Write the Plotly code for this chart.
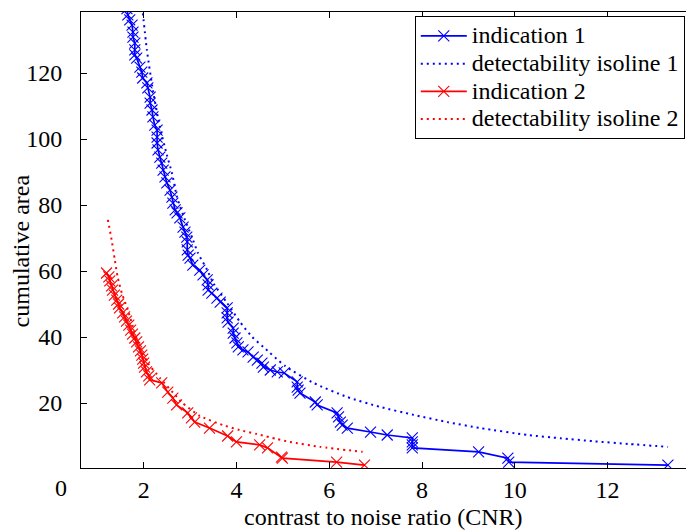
import plotly.graph_objects as go

# ---------------- data ----------------
cnr_ind1 = [1.64, 1.66, 1.70, 1.75, 1.77, 1.77, 1.81, 1.81, 1.81, 1.85,
            1.92, 1.96, 1.98, 2.07, 2.09, 2.14, 2.14, 2.18, 2.20, 2.24,
            2.29, 2.29, 2.29, 2.31, 2.35, 2.39, 2.42, 2.46, 2.50, 2.57,
            2.61, 2.63, 2.68, 2.72, 2.78, 2.85, 2.89, 2.93, 2.94, 2.94,
            2.96, 3.00, 3.06, 3.21, 3.28, 3.37, 3.39, 3.39, 3.47, 3.58,
            3.65, 3.80, 3.80, 3.80, 3.82, 3.93, 3.93, 3.97, 4.01, 4.04,
            4.14, 4.25, 4.36, 4.45, 4.55, 4.58, 4.73, 4.88, 5.03, 5.31,
            5.31, 5.33, 5.37, 5.70, 5.74, 6.17, 6.20, 6.24, 6.28, 6.39,
            6.89, 7.25, 7.79, 7.79, 7.79, 7.79, 9.22, 9.85, 9.87, 13.30]
area_ind1 = [139.5, 137.6, 136.1, 134.5, 132.4, 130.9, 129.1, 127.0, 125.5, 124.5,
             121.8, 120.3, 118.5, 117.0, 115.5, 112.7, 110.9, 108.8, 106.7, 104.2,
             102.7, 100.6, 98.8, 96.7, 94.5, 92.7, 90.6, 88.5, 86.7, 84.5,
             82.4, 80.6, 78.5, 77.6, 76.1, 73.3, 71.8, 70.3, 68.8, 66.4,
             64.8, 63.9, 61.8, 60.3, 58.8, 57.3, 55.8, 54.2, 53.3, 51.8,
             50.6, 48.8, 47.3, 45.8, 44.5, 42.7, 41.2, 39.7, 38.2, 37.0,
             36.1, 35.5, 33.9, 33.0, 32.1, 30.9, 30.0, 29.4, 29.1, 26.4,
             24.8, 23.9, 23.0, 20.3, 19.4, 17.0, 15.8, 14.2, 13.3, 12.4,
             11.2, 10.3, 9.4, 8.2, 7.3, 6.4, 5.2, 3.3, 2.1, 1.2]

cnr_iso1 = [1.97, 2.07, 2.20, 2.35, 2.50, 2.61, 2.72, 2.89, 3.04, 3.17,
            3.37, 3.50, 3.80, 4.08, 4.34, 4.58, 5.05, 5.66, 6.39, 7.10,
            7.82, 8.55, 9.26, 10.28, 10.99, 11.70, 12.44, 13.30]
area_iso1 = [140.0, 127.0, 114.8, 103.6, 95.2, 89.7, 82.4, 75.5, 70.3, 65.5,
             60.3, 56.4, 50.3, 44.5, 40.0, 37.0, 31.2, 26.1, 21.8, 18.8,
             16.4, 14.2, 12.4, 10.3, 9.3, 8.4, 7.6, 6.7]

cnr_ind2 = [1.20, 1.25, 1.27, 1.31, 1.33, 1.37, 1.42, 1.46, 1.48, 1.55,
            1.59, 1.63, 1.68, 1.72, 1.76, 1.81, 1.85, 1.89, 1.93, 1.96,
            1.98, 2.00, 2.02, 2.06, 2.11, 2.13, 2.39, 2.52, 2.63, 2.71,
            2.95, 3.03, 3.10, 3.42, 3.81, 4.00, 4.50, 4.67, 4.97, 4.99,
            6.16, 6.76]
area_ind2 = [59.4, 58.2, 57.0, 55.5, 54.2, 52.7, 51.2, 50.0, 48.8, 47.3,
             46.1, 44.8, 43.6, 42.1, 40.9, 39.7, 38.5, 37.0, 35.8, 34.5,
             33.3, 32.1, 30.9, 29.4, 28.2, 27.0, 26.1, 23.3, 21.5, 19.4,
             17.0, 15.5, 14.2, 12.4, 10.0, 8.2, 7.3, 6.4, 3.6, 3.3,
             2.1, 1.2]

cnr_iso2 = [1.23, 1.31, 1.38, 1.44, 1.53, 1.66, 1.77, 1.88, 1.98, 2.09,
            2.35, 2.72, 2.84, 3.21, 3.71, 4.07, 4.44, 4.87, 5.15, 5.80, 6.72]
area_iso2 = [75.5, 69.4, 63.3, 58.2, 53.3, 48.2, 43.0, 38.2, 35.2, 32.1,
             27.6, 21.8, 20.0, 16.1, 13.3, 11.8, 10.6, 9.1, 8.2, 6.7, 5.2]

series_names = ["indication 1", "detectability isoline 1",
                "indication 2", "detectability isoline 2"]
x_ticks = [2, 4, 6, 8, 10, 12]
y_ticks = [20, 40, 60, 80, 100, 120]
x_title = "contrast to noise ratio (CNR)"
y_title = "cumulative area"
origin_label = "0"

# ---------------- styling ----------------
FONT = "Liberation Serif"
BLUE = "#0000ff"
RED = "#ff0000"
LEG_TXT = 24


def leg(name):
    return '<span style="font-size:%spx">%s</span>' % (LEG_TXT, name)


fig = go.Figure()
fig.add_trace(go.Scatter(
    x=cnr_ind1, y=area_ind1, mode="lines+markers", name=leg(series_names[0]),
    line=dict(color=BLUE, width=1.7),
    marker=dict(symbol="x-thin", size=11, color=BLUE, line=dict(color=BLUE, width=1.1))))
fig.add_trace(go.Scatter(
    x=cnr_iso1, y=area_iso1, mode="lines", name=leg(series_names[1]),
    line=dict(color=BLUE, width=2, dash="2px,4px", shape="spline", smoothing=0.6)))
fig.add_trace(go.Scatter(
    x=cnr_ind2, y=area_ind2, mode="lines+markers", name=leg(series_names[2]),
    line=dict(color=RED, width=1.7),
    marker=dict(symbol="x-thin", size=11, color=RED, line=dict(color=RED, width=1.1))))
fig.add_trace(go.Scatter(
    x=cnr_iso2, y=area_iso2, mode="lines", name=leg(series_names[3]),
    line=dict(color=RED, width=2, dash="2px,4px", shape="spline", smoothing=0.6)))

axis_common = dict(
    showgrid=False, zeroline=False, showline=True, linecolor="black", linewidth=1,
    ticks="inside", ticklen=6, tickwidth=1, tickcolor="black",
    tickfont=dict(family=FONT, size=24, color="black"),
)

fig.update_layout(
    width=686, height=530,
    margin=dict(l=81, r=0, t=12, b=62),
    paper_bgcolor="white", plot_bgcolor="white",
    font=dict(family=FONT, color="black"),
    showlegend=True,
    legend=dict(
        x=0.998, xanchor="right", y=0.991, yanchor="top",
        bordercolor="black", borderwidth=1, bgcolor="white",
        font=dict(family=FONT, size=19, color="black"),
        itemwidth=46, tracegroupgap=0,
    ),
    xaxis=dict(range=[0.65, 13.69], tickvals=x_ticks, mirror="ticks",
               ticklabelstandoff=0, **axis_common),
    yaxis=dict(range=[0.3, 138.5], tickvals=y_ticks, mirror=False,
               ticklabelstandoff=13, **axis_common),
    annotations=[
        dict(text=x_title, xref="paper", yref="paper", x=0.5, y=-0.108,
             xanchor="center", yanchor="middle", showarrow=False,
             font=dict(family=FONT, size=24, color="black")),
        dict(text=y_title, xref="paper", yref="paper", x=-0.1, y=0.476,
             xanchor="center", yanchor="middle", textangle=-90, showarrow=False,
             font=dict(family=FONT, size=24, color="black")),
        dict(text=origin_label, xref="paper", yref="paper", x=-0.033, y=-0.044,
             xanchor="center", yanchor="middle", showarrow=False,
             font=dict(family=FONT, size=24, color="black")),
    ],
)

fig.write_html("out.html")
